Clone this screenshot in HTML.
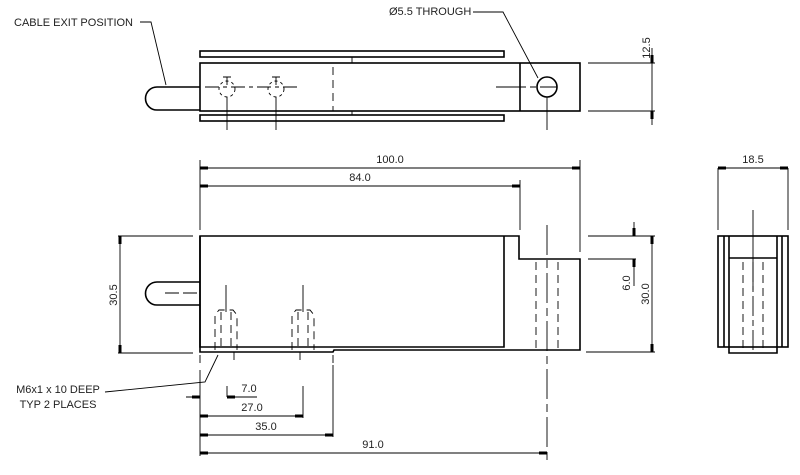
<!DOCTYPE html>
<html><head><meta charset="utf-8"><style>
html,body{margin:0;padding:0;background:#fff}
svg{display:block}
text{font-family:"Liberation Sans",sans-serif;font-size:11px;fill:#222}
</style></head><body>
<svg width="800" height="475" viewBox="0 0 800 475">
<g fill="none" stroke="#000" stroke-width="1.6">
<!-- TOP VIEW -->
<rect x="200" y="51" width="304" height="6"/>
<rect x="200" y="115" width="304" height="6"/>
<rect x="200" y="63" width="380" height="48"/>
<line x1="520" y1="63" x2="520" y2="111"/>
<circle cx="547" cy="87" r="10"/>
<path d="M200 87 H157 A11.5 11.5 0 0 0 157 110 H200"/>
<!-- FRONT VIEW -->
<path d="M200 236 H519 V259 H580 V350 H334 L333 352 H200 Z"/>
<path d="M200 236 V347 H504 V236"/>
<path d="M200 282 H157 A11.5 11.5 0 0 0 157 305 H200"/>
<!-- SIDE VIEW -->
<rect x="718" y="236" width="70" height="111"/>
<line x1="724" y1="236" x2="724" y2="347"/>
<line x1="782" y1="236" x2="782" y2="347"/>
<path d="M729 236 V353 H777 V236"/>
<line x1="729" y1="258" x2="777" y2="258"/>
</g>
<g fill="none" stroke="#000" stroke-width="0.9">
<!-- top view thin -->
<line x1="352" y1="57" x2="352" y2="63"/><line x1="352" y1="111" x2="352" y2="115"/>
<line x1="333" y1="67" x2="333" y2="111" stroke-dasharray="8,5"/>
<line x1="205" y1="87" x2="300" y2="87" stroke-dasharray="14,4,4,4"/>
<line x1="496" y1="87" x2="557" y2="87" stroke-dasharray="30,4,6,4"/>
<circle cx="227" cy="89" r="8" stroke-dasharray="3,3"/>
<circle cx="276" cy="89" r="8" stroke-dasharray="3,3"/>
<path d="M223 77 H231 M227 77 V85 M272 77 H280 M276 77 V85"/>
<line x1="227" y1="97" x2="227" y2="130"/><line x1="276" y1="97" x2="276" y2="130"/>
<line x1="547" y1="97" x2="547" y2="130"/>
<line x1="588" y1="63" x2="655" y2="63"/><line x1="588" y1="111" x2="655" y2="111"/>
<line x1="652" y1="48" x2="652" y2="125"/>
<path d="M140 22 H151 L166 85"/>
<path d="M473 12 H503 L538 78"/>
<!-- front view thin -->
<line x1="226" y1="285" x2="226" y2="312"/><line x1="303" y1="285" x2="303" y2="312"/>
<g stroke-dasharray="8,5">
<path d="M215 350 V315 L219 310 H233 L237 315 V350"/>
<path d="M292 350 V315 L296 310 H310 L314 315 V350"/>
<line x1="221" y1="312" x2="221" y2="350"/><line x1="231" y1="312" x2="231" y2="350"/>
<line x1="298" y1="312" x2="298" y2="350"/><line x1="308" y1="312" x2="308" y2="350"/>
<line x1="536" y1="262" x2="536" y2="350"/><line x1="558" y1="262" x2="558" y2="350"/>
<line x1="547" y1="225" x2="547" y2="460" stroke-dasharray="30,5,8,5"/>
<line x1="743" y1="262" x2="743" y2="350"/><line x1="763" y1="262" x2="763" y2="350"/>
<line x1="753" y1="262" x2="753" y2="350" stroke-dasharray="20,4,6,4"/>
<line x1="200" y1="355" x2="200" y2="365"/><line x1="333" y1="355" x2="333" y2="365"/>
</g>
<line x1="753" y1="210" x2="753" y2="290"/>
<line x1="165" y1="293" x2="200" y2="293" stroke-dasharray="14,4"/>
<line x1="234" y1="352" x2="234" y2="360"/><line x1="300" y1="352" x2="300" y2="360"/>
<!-- dims -->
<line x1="200" y1="160" x2="200" y2="230"/><line x1="580" y1="160" x2="580" y2="252"/><line x1="520" y1="180" x2="520" y2="230"/>
<line x1="200" y1="168" x2="580" y2="168"/><line x1="200" y1="186" x2="520" y2="186"/>
<line x1="118" y1="236" x2="193" y2="236"/><line x1="118" y1="353" x2="193" y2="353"/>
<line x1="120" y1="236" x2="120" y2="353"/>
<line x1="588" y1="236" x2="655" y2="236"/><line x1="588" y1="259" x2="636" y2="259"/><line x1="586" y1="352" x2="655" y2="352"/>
<line x1="634" y1="222" x2="634" y2="236"/><line x1="634" y1="259" x2="634" y2="286"/>
<line x1="652" y1="236" x2="652" y2="352"/>
<line x1="718" y1="168" x2="718" y2="230"/><line x1="788" y1="168" x2="788" y2="230"/>
<line x1="718" y1="168" x2="788" y2="168"/>
<line x1="200" y1="370" x2="200" y2="456"/><line x1="303" y1="386" x2="303" y2="418"/><line x1="333" y1="365" x2="333" y2="437"/>
<line x1="227" y1="386" x2="227" y2="397"/>
<path d="M227 397 H257 M186 397 H200 M200 416 H303 M200 435 H333 M200 453 H547"/>
<path d="M105 392 L205 382 L218 355"/>
</g>
<g fill="#000">
<rect x="200" y="166.5" width="8" height="3"/><rect x="572" y="166.5" width="8" height="3"/>
<rect x="200" y="184.5" width="8" height="3"/><rect x="512" y="184.5" width="8" height="3"/>
<rect x="118.5" y="236" width="3" height="8"/><rect x="118.5" y="345" width="3" height="8"/>
<rect x="650.5" y="236" width="3" height="8"/><rect x="650.5" y="344" width="3" height="8"/>
<rect x="632.5" y="228" width="3" height="8"/><rect x="632.5" y="259" width="3" height="8"/>
<rect x="650.5" y="55" width="3" height="8"/><rect x="650.5" y="111" width="3" height="8"/>
<rect x="718" y="166.5" width="8" height="3"/><rect x="780" y="166.5" width="8" height="3"/>
<rect x="192" y="395.5" width="8" height="3"/><rect x="227" y="395.5" width="8" height="3"/>
<rect x="200" y="414.5" width="8" height="3"/><rect x="295" y="414.5" width="8" height="3"/>
<rect x="200" y="433.5" width="8" height="3"/><rect x="325" y="433.5" width="8" height="3"/>
<rect x="200" y="451.5" width="8" height="3"/><rect x="539" y="451.5" width="8" height="3"/>
</g>
<text x="14" y="26">CABLE EXIT POSITION</text>
<text x="389" y="15">Ø5.5 THROUGH</text>
<text transform="translate(650,48) rotate(-90)" text-anchor="middle">12.5</text>
<text x="390" y="163" text-anchor="middle">100.0</text>
<text x="360" y="181" text-anchor="middle">84.0</text>
<text x="753" y="163" text-anchor="middle">18.5</text>
<text transform="translate(117,295) rotate(-90)" text-anchor="middle">30.5</text>
<text transform="translate(630,283) rotate(-90)" text-anchor="middle">6.0</text>
<text transform="translate(649,294) rotate(-90)" text-anchor="middle">30.0</text>
<text x="58" y="393" text-anchor="middle">M6x1 x 10 DEEP</text>
<text x="58" y="408" text-anchor="middle">TYP 2 PLACES</text>
<text x="249" y="392" text-anchor="middle">7.0</text>
<text x="252" y="411" text-anchor="middle">27.0</text>
<text x="266" y="430" text-anchor="middle">35.0</text>
<text x="373" y="448" text-anchor="middle">91.0</text>
</svg>
</body></html>
